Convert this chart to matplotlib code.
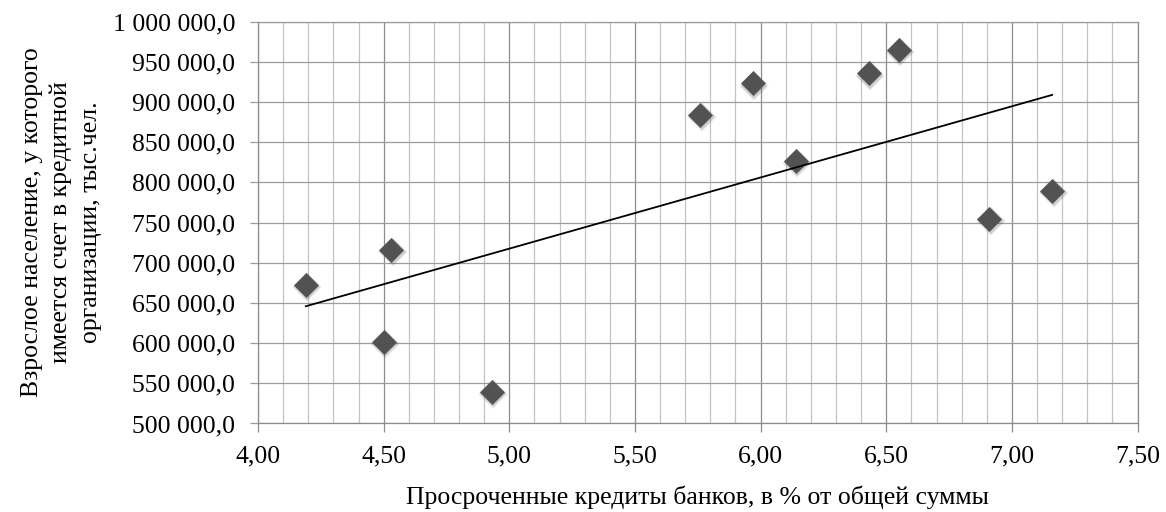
import matplotlib
matplotlib.use("Agg")
import matplotlib.pyplot as plt
import matplotlib.ticker as mticker
import matplotlib.transforms as mtransforms
import numpy as np

# Просроченные кредиты банков (%) и взрослое население со счетом (тыс. чел.)
overdue_pct = [4.19, 4.50, 4.53, 4.93, 5.76, 5.97, 6.14, 6.43, 6.55, 6.91, 7.16]
adults_with_account = [672000, 601700, 715700, 539700, 884300, 923100,
                       826900, 935500, 965300, 754000, 789700]

x_label = "Просроченные кредиты банков, в % от общей суммы"
y_label = ("Взрослое население, у которого\n"
           "имеется счет в кредитной\n"
           "организации, тыс.чел.")

plt.rcParams["font.family"] = ["Liberation Serif", "DejaVu Serif"]

fig = plt.figure(figsize=(11.66, 5.12), dpi=100)
ax = fig.add_axes([0.2213, 0.1729, 0.7543, 0.7848])

x = np.array(overdue_pct)
y = np.array(adults_with_account)

# мягкая тень под маркерами
for ms, a in [(15.5, 0.05), (14, 0.09), (12.8, 0.13)]:
    shadow = mtransforms.offset_copy(ax.transData, fig=fig, x=1.0, y=-1.5, units="points")
    ax.plot(x, y, linestyle="none", marker="D", ms=ms, color="#404040",
            markeredgewidth=0, alpha=a, transform=shadow, zorder=3)
ax.plot(x, y, linestyle="none", marker="D", ms=11.8, color="#525252",
        markeredgecolor="#5a5a5a", markeredgewidth=0.6, zorder=4)

# линейный тренд
coeffs = np.polyfit(x, y, 1)
xt = np.array([x.min(), x.max()])
ax.plot(xt, np.polyval(coeffs, xt), color="black", lw=1.3, zorder=5)

ax.set_xlim(4.0, 7.5)
ax.set_ylim(500000, 1000000)
ax.xaxis.set_major_locator(mticker.MultipleLocator(0.5))
ax.xaxis.set_minor_locator(mticker.MultipleLocator(0.1))
ax.yaxis.set_major_locator(mticker.MultipleLocator(50000))
ax.xaxis.set_major_formatter(mticker.FuncFormatter(lambda v, p: f"{v:.2f}".replace(".", ",")))
ax.yaxis.set_major_formatter(mticker.FuncFormatter(
    lambda v, p: f"{v:,.1f}".replace(",", " ").replace(".", ",")))

ax.grid(True, which="major", axis="x", color="#8c8c8c", lw=0.9, zorder=0)
ax.grid(True, which="minor", axis="x", color="#c4c4c4", lw=0.9, zorder=0)
ax.grid(True, which="major", axis="y", color="#9c9c9c", lw=0.9, zorder=0)
ax.set_axisbelow(True)

for side in ["left", "right", "bottom"]:
    ax.spines[side].set_color("#8c8c8c")
    ax.spines[side].set_linewidth(0.9)
ax.spines["top"].set_color("#9c9c9c")
ax.spines["top"].set_linewidth(0.9)

ax.tick_params(axis="x", which="major", direction="out", length=6.5, width=0.9,
               color="#8c8c8c", labelsize=18.5, pad=9)
ax.tick_params(axis="x", which="minor", length=0)
ax.tick_params(axis="y", which="major", direction="out", length=5.5, width=0.9,
               color="#9c9c9c", labelsize=18.5, pad=11)

ax.set_xlabel(x_label, fontsize=18.5, labelpad=13)
ax.set_ylabel(y_label, fontsize=18.5, labelpad=8, linespacing=1.42,
              multialignment="center")

fig.savefig("out.png", dpi=100)
